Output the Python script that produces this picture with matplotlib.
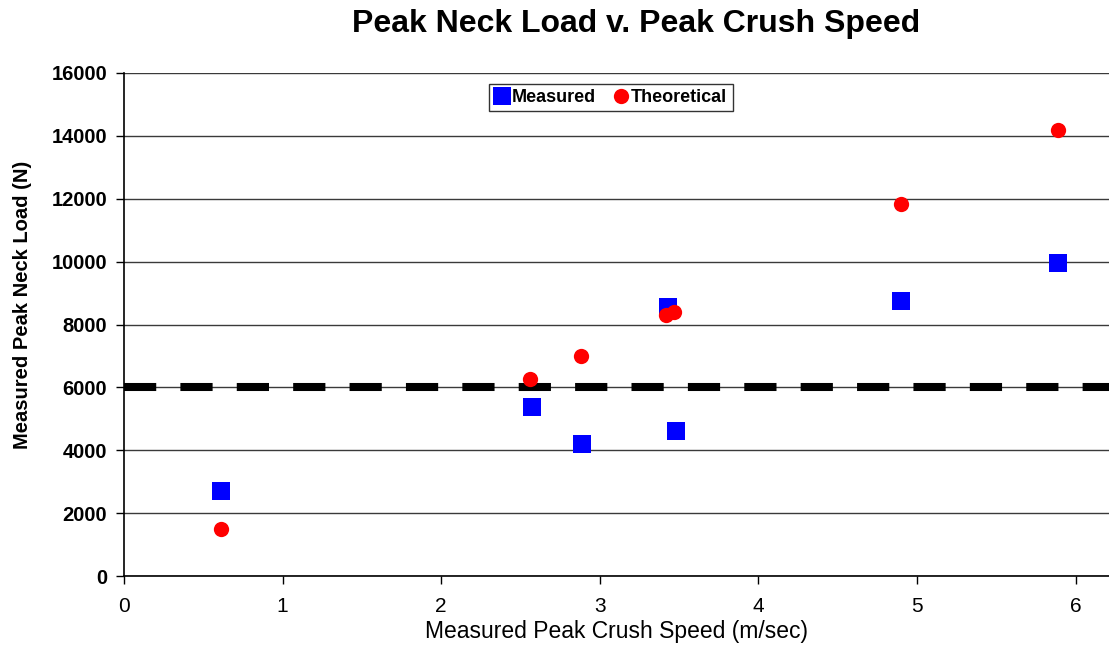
import matplotlib
matplotlib.use("Agg")
import matplotlib.pyplot as plt
import warnings
warnings.filterwarnings("ignore")

speed = [0.61, 2.57, 2.89, 3.43, 3.48, 4.90, 5.89]
measured = [2700, 5390, 4210, 8550, 4620, 8740, 9950]
theory_speed = [0.61, 2.56, 2.88, 3.42, 3.47, 4.90, 5.89]
theoretical = [1480, 6260, 7000, 8300, 8400, 11840, 14190]
threshold = 6000
y_ticks = list(range(0, 16001, 2000))
x_ticks = [0, 1, 2, 3, 4, 5, 6]

plt.rcParams['font.family'] = ['Liberation Sans', 'DejaVu Sans']

fig = plt.figure(figsize=(11.09, 6.48), dpi=100)
ax = fig.add_axes([124/1109, 72/648, 1 - 124/1109, 503/648])

ax.set_xlim(0, 6.21)
ax.set_ylim(0, 16000)
ax.set_yticks(y_ticks)
ax.set_xticks(x_ticks)
ax.yaxis.grid(True, color='#3a3a3a', linewidth=1.0)
ax.set_axisbelow(True)

ax.axhline(threshold, color='black', linewidth=5.8, dashes=(4, 3),
           solid_capstyle='butt', dash_capstyle='butt', zorder=2)

ax.plot(speed, measured, linestyle='none', marker='s', markersize=12.5,
        color='#0000FF', markeredgewidth=0, label='Measured', zorder=3)
ax.plot(theory_speed, theoretical, linestyle='none', marker='o', markersize=11,
        color='#FF0000', markeredgewidth=0, label='Theoretical', zorder=4)

for s in ['top', 'right']:
    ax.spines[s].set_visible(False)
ax.spines['left'].set_color('black')
ax.spines['bottom'].set_color('black')
ax.spines['left'].set_linewidth(1.2)
ax.spines['bottom'].set_linewidth(1.2)

ax.tick_params(axis='y', direction='out', length=6, width=1, labelsize=14.5, pad=6)
ax.tick_params(axis='x', direction='out', length=6, width=1, labelsize=15, pad=9)
for t in ax.get_yticklabels():
    t.set_fontweight('bold')

ax.set_xlabel('Measured Peak Crush Speed (m/sec)', fontsize=16.5, labelpad=3)
fig.text(23/1109, 1 - 305/648, 'Measured Peak Neck Load (N)', rotation=90,
         ha='center', va='center', fontsize=14.5, fontweight='bold')

fig.text(636/1109, 1 - 24/648, 'Peak Neck Load v. Peak Crush Speed',
         ha='center', va='center', fontsize=23, fontweight='bold')

leg = ax.legend(loc='center', bbox_to_anchor=((611 - 124) / 985, (576 - 97.5) / 503),
                ncol=2, frameon=True, fancybox=False, edgecolor='black',
                prop={'weight': 'bold', 'size': 13}, handlelength=0.8,
                handletextpad=0.15, columnspacing=1.0, borderpad=0.3,
                markerscale=1.0)
leg.get_frame().set_linewidth(1.0)

fig.savefig('out.png', dpi=100)
